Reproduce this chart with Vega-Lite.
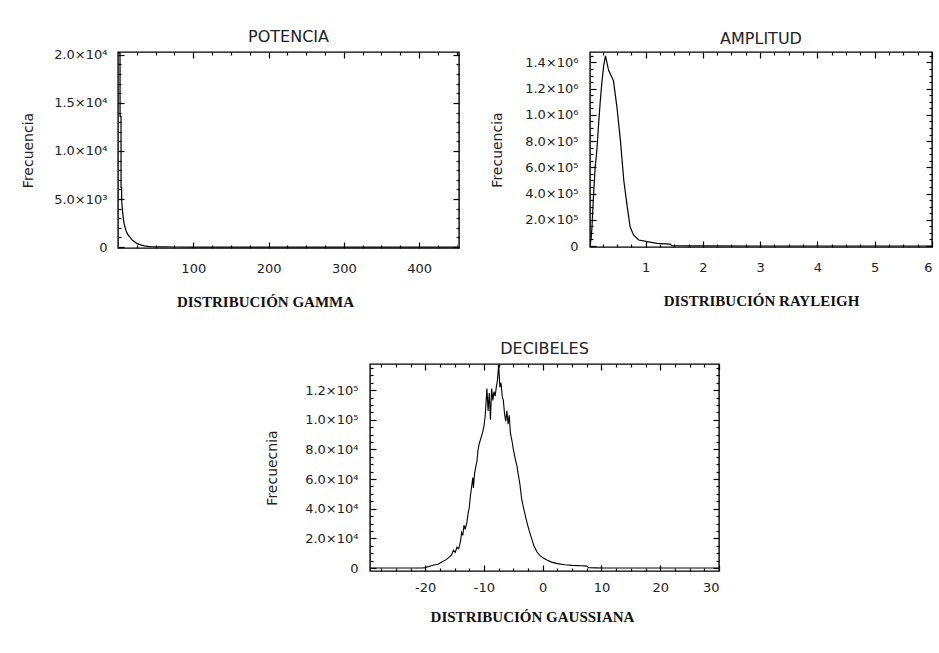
{
  "$schema": "https://vega.github.io/schema/vega-lite/v6.json",
  "background": "white",
  "padding": {"left": 20, "top": 28, "right": 0, "bottom": 0},
  "config": {
    "view": {"stroke": "#000", "strokeWidth": 1.4},
    "axis": {"domain": false, "grid": false, "labelFont": "DejaVu Sans", "labelFontSize": 13, "labelColor": "#222", "tickColor": "#000", "tickWidth": 1.2, "titleFont": "Liberation Serif", "titleFontWeight": "bold", "titleFontSize": 15, "titleColor": "#111"},
    "title": {"font": "DejaVu Sans", "fontSize": 16, "fontWeight": "normal", "color": "#222", "offset": 4}
  },
  "datasets": {
    "gamma": [{"x":1.0,"y":20200},{"x":2.7,"y":20200},{"x":2.75,"y":13600},{"x":4.0,"y":13600},{"x":4.05,"y":6200},{"x":4.8,"y":6200},{"x":4.85,"y":4900},{"x":5.5,"y":4200},{"x":6.3,"y":3500},{"x":7.2,"y":2900},{"x":8.2,"y":2400},{"x":9.2,"y":2100},{"x":10.5,"y":1750},{"x":12,"y":1450},{"x":14,"y":1200},{"x":15.6,"y":1070},{"x":18,"y":800},{"x":20,"y":650},{"x":22,"y":550},{"x":25,"y":380},{"x":28,"y":280},{"x":31,"y":200},{"x":35,"y":130},{"x":40,"y":70},{"x":44,"y":40},{"x":50,"y":20},{"x":60,"y":8},{"x":75,"y":3},{"x":100,"y":0},{"x":450,"y":0}],
    "rayleigh": [{"x":0.03,"y":0},{"x":0.05,"y":60000},{"x":0.065,"y":147000},{"x":0.093,"y":400000},{"x":0.12,"y":600000},{"x":0.15,"y":730000},{"x":0.18,"y":930000},{"x":0.21,"y":1110000},{"x":0.24,"y":1260000},{"x":0.27,"y":1380000},{"x":0.3,"y":1450000},{"x":0.355,"y":1340000},{"x":0.44,"y":1260000},{"x":0.5,"y":1060000},{"x":0.56,"y":810000},{"x":0.62,"y":500000},{"x":0.68,"y":300000},{"x":0.73,"y":147000},{"x":0.79,"y":84000},{"x":0.88,"y":46000},{"x":1.03,"y":33000},{"x":1.2,"y":20000},{"x":1.43,"y":15000},{"x":1.46,"y":3000},{"x":2,"y":1000},{"x":3,"y":0},{"x":6,"y":0}],
    "gauss": [{"x":-29.4,"y":0},{"x":-20.5,"y":0},{"x":-20,"y":300},{"x":-19.4,"y":1000},{"x":-18.5,"y":2000},{"x":-17.8,"y":2600},{"x":-17.2,"y":4000},{"x":-16.5,"y":5500},{"x":-16,"y":7000},{"x":-15.5,"y":9000},{"x":-15.2,"y":12000},{"x":-14.9,"y":10500},{"x":-14.6,"y":14000},{"x":-14.3,"y":13000},{"x":-14,"y":18000},{"x":-13.8,"y":24000},{"x":-13.6,"y":22000},{"x":-13.4,"y":29000},{"x":-13.2,"y":26000},{"x":-12.9,"y":31000},{"x":-12.7,"y":37000},{"x":-12.5,"y":41000},{"x":-12.3,"y":49000},{"x":-12.1,"y":55000},{"x":-11.9,"y":61000},{"x":-11.8,"y":54000},{"x":-11.6,"y":64000},{"x":-11.4,"y":68000},{"x":-11.2,"y":72000},{"x":-11.0,"y":80000},{"x":-10.8,"y":84000},{"x":-10.5,"y":88000},{"x":-10.2,"y":92000},{"x":-10.0,"y":96000},{"x":-9.8,"y":102000},{"x":-9.6,"y":115000},{"x":-9.5,"y":121000},{"x":-9.3,"y":106000},{"x":-9.1,"y":118000},{"x":-8.9,"y":100000},{"x":-8.7,"y":121000},{"x":-8.5,"y":113000},{"x":-8.3,"y":119000},{"x":-8.1,"y":116000},{"x":-7.9,"y":122000},{"x":-7.7,"y":127000},{"x":-7.5,"y":137000},{"x":-7.3,"y":122000},{"x":-7.1,"y":125000},{"x":-6.9,"y":116000},{"x":-6.7,"y":113000},{"x":-6.5,"y":104000},{"x":-6.3,"y":99000},{"x":-6.1,"y":106000},{"x":-5.9,"y":97000},{"x":-5.7,"y":103000},{"x":-5.5,"y":91000},{"x":-5.2,"y":85000},{"x":-5.0,"y":80000},{"x":-4.7,"y":74000},{"x":-4.4,"y":69000},{"x":-4.2,"y":64000},{"x":-3.9,"y":57000},{"x":-3.6,"y":47000},{"x":-3.3,"y":41000},{"x":-3.0,"y":36000},{"x":-2.7,"y":31000},{"x":-2.3,"y":25000},{"x":-1.9,"y":20000},{"x":-1.5,"y":15000},{"x":-1.0,"y":11000},{"x":-0.5,"y":8500},{"x":0.1,"y":6700},{"x":0.8,"y":5200},{"x":1.5,"y":4000},{"x":2.5,"y":3000},{"x":3.8,"y":2200},{"x":5,"y":1800},{"x":6.6,"y":1500},{"x":7.5,"y":1300},{"x":7.8,"y":300},{"x":9,"y":100},{"x":10,"y":0},{"x":30,"y":0}]
  },
  "spacing": 30,
  "vconcat": [
    {
      "spacing": 28,
      "hconcat": [
        {
          "title": "POTENCIA",
          "width": 341, "height": 196,
          "data": {"name": "gamma"},
          "resolve": {"axis": {"x": "independent", "y": "independent"}},
          "layer": [
            {"mark": {"type": "line", "color": "#000", "strokeWidth": 1.2, "clip": true},
             "encoding": {
               "x": {"field": "x", "type": "quantitative", "scale": {"domain": [0, 453], "nice": false, "zero": false},
                     "axis": {"orient": "bottom", "values": [100, 200, 300, 400], "tickSize": -6, "labelPadding": 20, "title": "DISTRIBUCIÓN GAMMA", "titlePadding": 19, "titleX": 147, "titleAlign": "center", "labelExpr": "replace(datum.label, '−', '-')"}},
               "y": {"field": "y", "type": "quantitative", "scale": {"domain": [-100, 20300], "nice": false, "zero": false},
                     "axis": {"orient": "left", "values": [0, 5000, 10000, 15000, 20000], "tickSize": -6, "labelPadding": 17, "title": "Frecuencia", "titleFont": "DejaVu Sans", "titleFontWeight": "normal", "titleFontSize": 14, "titleColor": "#222", "titlePadding": 18,
                              "labelExpr": "datum.value == 0 ? '0' : format(datum.value / pow(10, floor(log(datum.value) / LN10 + 1e-9)), '.1f') + '×10' + ['⁰','¹','²','³','⁴','⁵','⁶','⁷','⁸'][floor(log(datum.value) / LN10 + 1e-9)]"}}
             }},
            {"mark": {"type": "line", "opacity": 0},
             "encoding": {
               "x": {"field": "x", "type": "quantitative", "scale": {"domain": [0, 453], "nice": false, "zero": false},
                     "axis": {"orient": "top", "values": [100, 200, 300, 400], "tickSize": -6, "labels": false, "title": null}},
               "y": {"field": "y", "type": "quantitative", "scale": {"domain": [-100, 20300], "nice": false, "zero": false},
                     "axis": {"orient": "right", "values": [0, 5000, 10000, 15000, 20000], "tickSize": -6, "labels": false, "title": null}}
             }},
            {"mark": {"type": "line", "opacity": 0},
             "encoding": {
               "x": {"field": "x", "type": "quantitative", "scale": {"domain": [0, 453], "nice": false, "zero": false},
                     "axis": {"orient": "bottom", "values": [25, 50, 75, 125, 150, 175, 225, 250, 275, 325, 350, 375, 425, 450], "tickSize": -3, "labels": false, "title": null}},
               "y": {"field": "y", "type": "quantitative", "scale": {"domain": [-100, 20300], "nice": false, "zero": false},
                     "axis": {"orient": "left", "values": [1000, 2000, 3000, 4000, 6000, 7000, 8000, 9000, 11000, 12000, 13000, 14000, 16000, 17000, 18000, 19000], "tickSize": -3, "labels": false, "title": null}}
             }},
            {"mark": {"type": "line", "opacity": 0},
             "encoding": {
               "x": {"field": "x", "type": "quantitative", "scale": {"domain": [0, 453], "nice": false, "zero": false},
                     "axis": {"orient": "top", "values": [25, 50, 75, 125, 150, 175, 225, 250, 275, 325, 350, 375, 425, 450], "tickSize": -3, "labels": false, "title": null}},
               "y": {"field": "y", "type": "quantitative", "scale": {"domain": [-100, 20300], "nice": false, "zero": false},
                     "axis": {"orient": "right", "values": [1000, 2000, 3000, 4000, 6000, 7000, 8000, 9000, 11000, 12000, 13000, 14000, 16000, 17000, 18000, 19000], "tickSize": -3, "labels": false, "title": null}}
             }}
          ]
        },
        {
          "title": "AMPLITUD",
          "width": 342, "height": 195,
          "data": {"name": "rayleigh"},
          "resolve": {"axis": {"x": "independent", "y": "independent"}},
          "layer": [
            {"mark": {"type": "line", "color": "#000", "strokeWidth": 1.2, "clip": true},
             "encoding": {
               "x": {"field": "x", "type": "quantitative", "scale": {"domain": [0.03, 6], "nice": false, "zero": false},
                     "axis": {"orient": "bottom", "values": [1, 2, 3, 4, 5, 6], "tickSize": -6, "labelPadding": 20, "title": "DISTRIBUCIÓN RAYLEIGH", "titlePadding": 19, "labelExpr": "replace(datum.label, '−', '-')"}},
               "y": {"field": "y", "type": "quantitative", "scale": {"domain": [-7600, 1480000], "nice": false, "zero": false},
                     "axis": {"orient": "left", "values": [0, 200000, 400000, 600000, 800000, 1000000, 1200000, 1400000], "tickSize": -6, "labelPadding": 18, "title": "Frecuencia", "titleFont": "DejaVu Sans", "titleFontWeight": "normal", "titleFontSize": 14, "titleColor": "#222", "titlePadding": 20,
                              "labelExpr": "datum.value == 0 ? '0' : format(datum.value / pow(10, floor(log(datum.value) / LN10 + 1e-9)), '.1f') + '×10' + ['⁰','¹','²','³','⁴','⁵','⁶','⁷','⁸'][floor(log(datum.value) / LN10 + 1e-9)]"}}
             }},
            {"mark": {"type": "line", "opacity": 0},
             "encoding": {
               "x": {"field": "x", "type": "quantitative", "scale": {"domain": [0.03, 6], "nice": false, "zero": false},
                     "axis": {"orient": "top", "values": [1, 2, 3, 4, 5, 6], "tickSize": -6, "labels": false, "title": null}},
               "y": {"field": "y", "type": "quantitative", "scale": {"domain": [-7600, 1480000], "nice": false, "zero": false},
                     "axis": {"orient": "right", "values": [0, 200000, 400000, 600000, 800000, 1000000, 1200000, 1400000], "tickSize": -6, "labels": false, "title": null}}
             }},
            {"mark": {"type": "line", "opacity": 0},
             "encoding": {
               "x": {"field": "x", "type": "quantitative", "scale": {"domain": [0.03, 6], "nice": false, "zero": false},
                     "axis": {"orient": "bottom", "values": [0.25, 0.5, 0.75, 1.25, 1.5, 1.75, 2.25, 2.5, 2.75, 3.25, 3.5, 3.75, 4.25, 4.5, 4.75, 5.25, 5.5, 5.75], "tickSize": -3, "labels": false, "title": null}},
               "y": {"field": "y", "type": "quantitative", "scale": {"domain": [-7600, 1480000], "nice": false, "zero": false},
                     "axis": {"orient": "left", "values": [50000, 100000, 150000, 250000, 300000, 350000, 450000, 500000, 550000, 650000, 700000, 750000, 850000, 900000, 950000, 1050000, 1100000, 1150000, 1250000, 1300000, 1350000, 1450000], "tickSize": -3, "labels": false, "title": null}}
             }},
            {"mark": {"type": "line", "opacity": 0},
             "encoding": {
               "x": {"field": "x", "type": "quantitative", "scale": {"domain": [0.03, 6], "nice": false, "zero": false},
                     "axis": {"orient": "top", "values": [0.25, 0.5, 0.75, 1.25, 1.5, 1.75, 2.25, 2.5, 2.75, 3.25, 3.5, 3.75, 4.25, 4.5, 4.75, 5.25, 5.5, 5.75], "tickSize": -3, "labels": false, "title": null}},
               "y": {"field": "y", "type": "quantitative", "scale": {"domain": [-7600, 1480000], "nice": false, "zero": false},
                     "axis": {"orient": "right", "values": [50000, 100000, 150000, 250000, 300000, 350000, 450000, 500000, 550000, 650000, 700000, 750000, 850000, 900000, 950000, 1050000, 1100000, 1150000, 1250000, 1300000, 1350000, 1450000], "tickSize": -3, "labels": false, "title": null}}
             }}
          ]
        }
      ]
    },
    {
      "spacing": 30,
      "hconcat": [
        {
          "width": 116, "height": 20,
          "data": {"values": [{"a": 0}]},
          "mark": {"type": "point", "opacity": 0},
          "encoding": {},
          "view": {"stroke": null}
        },
        {
          "title": {"text": "DECIBELES", "offset": 6},
          "width": 349, "height": 207,
          "data": {"name": "gauss"},
          "resolve": {"axis": {"x": "independent", "y": "independent"}},
          "layer": [
            {"mark": {"type": "line", "color": "#000", "strokeWidth": 1.1, "clip": true},
             "encoding": {
               "x": {"field": "x", "type": "quantitative", "scale": {"domain": [-29.4, 30], "nice": false, "zero": false},
                     "axis": {"orient": "bottom", "values": [-20, -10, 0, 10, 20, 30], "tickSize": -6, "labelPadding": 16, "title": "DISTRIBUCIÓN GAUSSIANA", "titlePadding": 15, "titleX": 162, "titleAlign": "center", "labelExpr": "replace(datum.label, '−', '-')"}},
               "y": {"field": "y", "type": "quantitative", "scale": {"domain": [-2000, 137600], "nice": false, "zero": false},
                     "axis": {"orient": "left", "values": [0, 20000, 40000, 60000, 80000, 100000, 120000], "tickSize": -6, "labelPadding": 18, "title": "Frecuecnia", "titleFont": "DejaVu Sans", "titleFontWeight": "normal", "titleFontSize": 14, "titleColor": "#222", "titlePadding": 25,
                              "labelExpr": "datum.value == 0 ? '0' : format(datum.value / pow(10, floor(log(datum.value) / LN10 + 1e-9)), '.1f') + '×10' + ['⁰','¹','²','³','⁴','⁵','⁶','⁷','⁸'][floor(log(datum.value) / LN10 + 1e-9)]"}}
             }},
            {"mark": {"type": "line", "opacity": 0},
             "encoding": {
               "x": {"field": "x", "type": "quantitative", "scale": {"domain": [-29.4, 30], "nice": false, "zero": false},
                     "axis": {"orient": "top", "values": [-20, -10, 0, 10, 20, 30], "tickSize": -6, "labels": false, "title": null}},
               "y": {"field": "y", "type": "quantitative", "scale": {"domain": [-2000, 137600], "nice": false, "zero": false},
                     "axis": {"orient": "right", "values": [0, 20000, 40000, 60000, 80000, 100000, 120000], "tickSize": -6, "labels": false, "title": null}}
             }},
            {"mark": {"type": "line", "opacity": 0},
             "encoding": {
               "x": {"field": "x", "type": "quantitative", "scale": {"domain": [-29.4, 30], "nice": false, "zero": false},
                     "axis": {"orient": "bottom", "values": [-27.5, -25, -22.5, -17.5, -15, -12.5, -7.5, -5, -2.5, 2.5, 5, 7.5, 12.5, 15, 17.5, 22.5, 25, 27.5], "tickSize": -3, "labels": false, "title": null}},
               "y": {"field": "y", "type": "quantitative", "scale": {"domain": [-2000, 137600], "nice": false, "zero": false},
                     "axis": {"orient": "left", "values": [5000, 10000, 15000, 25000, 30000, 35000, 45000, 50000, 55000, 65000, 70000, 75000, 85000, 90000, 95000, 105000, 110000, 115000, 125000, 130000, 135000], "tickSize": -3, "labels": false, "title": null}}
             }},
            {"mark": {"type": "line", "opacity": 0},
             "encoding": {
               "x": {"field": "x", "type": "quantitative", "scale": {"domain": [-29.4, 30], "nice": false, "zero": false},
                     "axis": {"orient": "top", "values": [-27.5, -25, -22.5, -17.5, -15, -12.5, -7.5, -5, -2.5, 2.5, 5, 7.5, 12.5, 15, 17.5, 22.5, 25, 27.5], "tickSize": -3, "labels": false, "title": null}},
               "y": {"field": "y", "type": "quantitative", "scale": {"domain": [-2000, 137600], "nice": false, "zero": false},
                     "axis": {"orient": "right", "values": [5000, 10000, 15000, 25000, 30000, 35000, 45000, 50000, 55000, 65000, 70000, 75000, 85000, 90000, 95000, 105000, 110000, 115000, 125000, 130000, 135000], "tickSize": -3, "labels": false, "title": null}}
             }}
          ]
        }
      ]
    }
  ]
}
